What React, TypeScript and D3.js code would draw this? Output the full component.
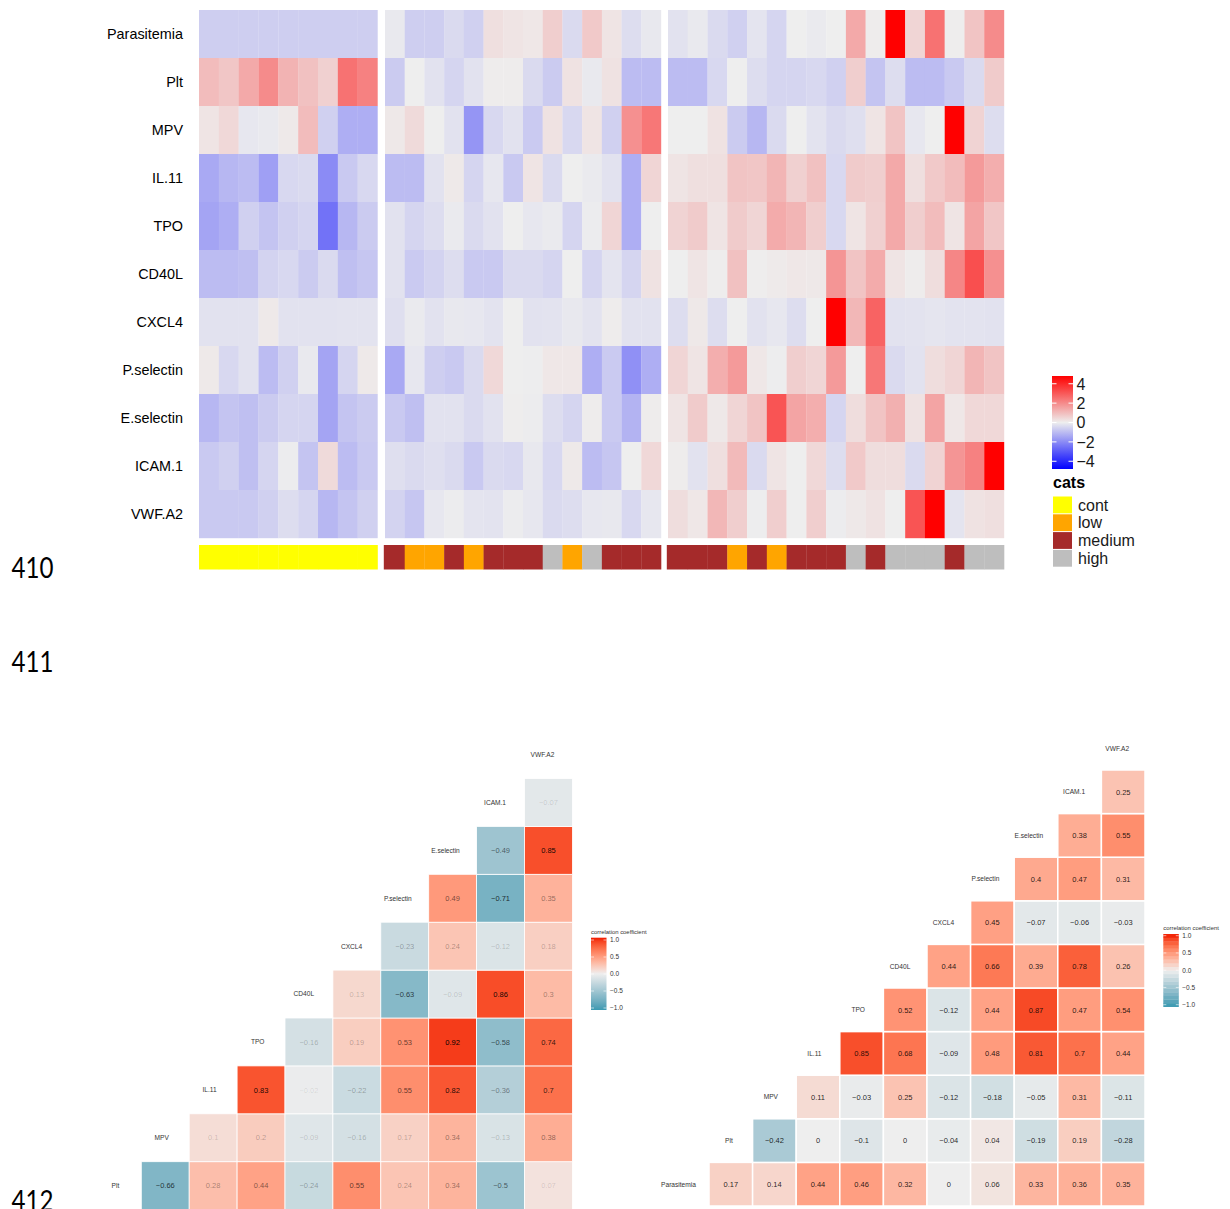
import React from "react";
import * as d3 from "d3";

const FONT = "'Liberation Sans', Arial, Helvetica, sans-serif";

// ---------- z-score heatmap ----------
const rowNames = [
  "Parasitemia", "Plt", "MPV", "IL.11", "TPO", "CD40L",
  "CXCL4", "P.selectin", "E.selectin", "ICAM.1", "VWF.A2",
];

// controls (9 samples)
const panel1Values = [
  [-0.65, -0.65, -0.65, -0.65, -0.65, -0.65, -0.65, -0.65, -0.65],
  [1.0, 0.8, 1.4, 2.0, 1.2, 0.9, 0.6, 2.5, 2.2],
  [0.2, 0.45, -0.15, -0.1, 0.1, 1.0, -0.6, -1.3, -1.3],
  [-1.4, -1.1, -1.0, -1.6, -0.45, -0.4, -2.0, -0.75, -0.45],
  [-1.5, -1.3, -0.6, -0.85, -0.6, -0.5, -2.5, -1.1, -0.7],
  [-1.0, -1.0, -0.95, -0.55, -0.45, -0.7, -0.4, -0.95, -0.8],
  [-0.25, -0.25, -0.25, 0.1, -0.25, -0.25, -0.25, -0.22, -0.22],
  [0.1, -0.45, -0.25, -1.0, -0.6, -0.1, -1.5, -0.5, 0.1],
  [-1.1, -0.85, -0.95, -0.7, -0.5, -0.5, -1.5, -0.85, -0.7],
  [-0.75, -0.6, -0.95, -0.5, -0.05, -0.85, 0.4, -1.0, -0.75],
  [-0.75, -0.75, -0.75, -0.6, -0.35, -0.5, -1.1, -0.85, -0.6],
];

// second patient cluster (14 samples)
const panel2Values = [
  [-0.1, -0.65, -0.65, -0.4, -0.6, 0.3, 0.2, 0.15, 0.65, -0.4, 0.75, 0.2, -0.35, -0.12],
  [-0.7, 0, -0.25, -0.5, -0.25, 0.05, 0.05, -0.4, -0.7, 0.25, -0.1, 0.25, -1.0, -1.0],
  [0.12, 0.4, 0, -0.25, -1.8, -0.45, -0.25, -0.72, 0.25, -0.45, 0.2, -0.6, 1.9, 2.4],
  [-1.0, -1.0, -0.25, 0.1, -0.5, -0.15, -0.75, 0.2, -0.4, 0, -0.08, -0.25, -1.3, 0.5],
  [-0.25, -0.5, -0.35, -0.08, -0.4, -0.25, 0, -0.15, -0.08, -0.5, -0.05, 0.5, -1.3, 0],
  [-0.25, -0.72, -0.55, -0.35, -0.75, -0.75, -0.4, -0.4, -0.5, 0, -0.5, -0.2, -0.5, 0.25],
  [-0.3, -0.08, -0.25, -0.12, -0.15, -0.22, 0, -0.25, -0.22, -0.12, -0.22, 0.05, -0.25, -0.25],
  [-1.4, -0.15, -0.65, -0.75, -0.4, 0.45, 0, -0.02, 0.15, 0.15, -1.3, -0.72, -1.9, -1.3],
  [-0.75, -0.95, -0.25, -0.25, -0.4, -0.25, 0.02, -0.05, -0.35, -0.5, 0.05, -0.72, -1.2, 0.05],
  [-0.3, -0.4, -0.3, -0.4, -0.75, -0.4, -0.45, -0.12, -0.45, 0.1, -1.0, -0.8, 0, 0.45],
  [-0.55, -0.8, -0.15, -0.05, -0.2, -0.22, -0.05, -0.15, -0.4, -0.35, -0.15, -0.12, -0.45, -0.15],
];

// third patient cluster (17 samples)
const panel3Values = [
  [-0.25, -0.1, -0.4, -0.6, -0.2, -0.5, 0, -0.08, 0, 1.4, 0.05, 4.8, 0.5, 2.5, 0.02, 0.85, 2.0],
  [-1.0, -1.0, -0.45, 0, -0.35, -0.5, -0.5, -0.45, -0.6, 0.65, -0.85, -0.35, -1.0, -1.0, -0.75, -0.4, 0.7],
  [0, 0, 0.25, -0.7, -1.1, -0.4, 0, -0.22, -0.4, -0.3, 0.2, 0.85, -0.15, 0, 4.8, 0.55, -0.35],
  [0.2, 0.3, 0.3, 0.85, 0.8, 1.15, 0.6, 0.9, -0.45, 0.7, 0.65, 1.4, 0.3, 0.75, 1.0, 1.7, 1.3],
  [0.55, 0.7, 0.2, 0.7, 0.5, 1.35, 1.15, 0.65, -0.45, 0.2, 0.6, 1.4, 0.65, 1.0, 0.2, 1.5, 0.8],
  [0, 0.2, 0.02, 0.9, 0.02, 0.08, 0.15, 0.12, 1.8, 0.85, 1.35, 0.2, 0.05, 0.35, 2.1, 3.2, 1.9],
  [-0.35, 0.12, -0.35, 0, -0.25, -0.15, -0.35, 0, 4.8, 1.1, 2.8, -0.25, -0.22, -0.18, -0.22, -0.22, -0.25],
  [0.5, 0.2, 1.3, 1.7, 0.15, -0.03, 0.65, 0.5, 1.7, 0, 2.4, -0.4, -0.25, 0.35, 0.5, 1.15, 0.85],
  [0.2, 0.7, 0.12, 0.5, 0.85, 3.1, 1.5, 1.3, -0.5, 0.35, 0.85, 1.25, 0.25, 1.5, 0.15, 0.45, 0.45],
  [0.05, -0.25, 0.3, 1.05, -0.4, 0.2, 0, 0.45, -0.35, 0.75, 0.35, 0.35, -0.4, 0.55, 1.8, 2.2, 4.8],
  [0.35, 0.15, 1.1, 0.65, -0.03, 0.65, 0, 0.65, -0.05, 0.12, 0.25, 0, 3.1, 4.8, -0.2, 0.25, 0.3],
];

const panel1Cats = ["cont", "cont", "cont", "cont", "cont", "cont", "cont", "cont", "cont"];
const panel2Cats = [
  "medium", "low", "low", "medium", "low", "medium", "medium",
  "medium", "high", "low", "high", "medium", "medium", "medium",
];
const panel3Cats = [
  "medium", "medium", "medium", "low", "medium", "low", "medium", "medium", "medium",
  "high", "medium", "high", "high", "high", "medium", "high", "high",
];

const catNames = ["cont", "low", "medium", "high"];
const catColors = ["#FFFF00", "#FFA500", "#A52A2A", "#BEBEBE"];
const heatTicks = [4, 2, 0, -2, -4];

// ---------- correlation triangles ----------
const corrLeftVars = ["Plt", "MPV", "IL.11", "TPO", "CD40L", "CXCL4", "P.selectin", "E.selectin", "ICAM.1", "VWF.A2"];
const corrLeftValues = [
  [-0.66, 0.28, 0.44, -0.24, 0.55, 0.24, 0.34, -0.5, 0.07],
  [0.1, 0.2, -0.09, -0.16, 0.17, 0.34, -0.13, 0.38],
  [0.83, -0.02, -0.22, 0.55, 0.82, -0.36, 0.7],
  [-0.16, 0.19, 0.53, 0.92, -0.58, 0.74],
  [0.13, -0.63, -0.09, 0.86, 0.3],
  [-0.23, 0.24, -0.12, 0.18],
  [0.49, -0.71, 0.35],
  [-0.49, 0.85],
  [-0.07],
];

const corrRightVars = ["Parasitemia", "Plt", "MPV", "IL.11", "TPO", "CD40L", "CXCL4", "P.selectin", "E.selectin", "ICAM.1", "VWF.A2"];
const corrRightValues = [
  [0.17, 0.14, 0.44, 0.46, 0.32, 0, 0.06, 0.33, 0.36, 0.35],
  [-0.42, 0, -0.1, 0, -0.04, 0.04, -0.19, 0.19, -0.28],
  [0.11, -0.03, 0.25, -0.12, -0.18, -0.05, 0.31, -0.11],
  [0.85, 0.68, -0.09, 0.48, 0.81, 0.7, 0.44],
  [0.52, -0.12, 0.44, 0.87, 0.47, 0.54],
  [0.44, 0.66, 0.39, 0.78, 0.26],
  [0.45, -0.07, -0.06, -0.03],
  [0.4, 0.47, 0.31],
  [0.38, 0.55],
  [0.25],
];

const corrTicks = [1, 0.5, 0, -0.5, -1];
const pageNumbers = ["410", "411", "412"];

// ---------- scales ----------
const heatColor = d3
  .scaleLinear<string>()
  .domain([-4.8, 0, 4.8])
  .range(["#0000FF", "#EEEEEE", "#FF0000"])
  .clamp(true);

const corrColor = d3
  .scaleLinear<string>()
  .domain([-1, 0, 1])
  .range(["#3B9AB2", "#EEEEEE", "#F21A00"])
  .interpolate(d3.interpolateLab);

const minus = (s: string) => s.replace("-", "\u2212");
const fmtCorr = (v: number) => minus(String(v));

let measureCtx: CanvasRenderingContext2D | null = null;
function textWidth(s: string, size: number) {
  if (!measureCtx) measureCtx = document.createElement("canvas").getContext("2d");
  if (!measureCtx) return s.length * size * 0.55;
  measureCtx.font = `${size}px 'Liberation Sans', Arial, sans-serif`;
  return measureCtx.measureText(s).width;
}

// ---------- heatmap ----------
function Heatmap() {
  const y = d3.scaleBand<string>().domain(rowNames).range([10, 538]);
  const panels = [
    { values: panel1Values, cats: panel1Cats, x0: 199, x1: 377.5 },
    { values: panel2Values, cats: panel2Cats, x0: 385, x1: 661 },
    { values: panel3Values, cats: panel3Cats, x0: 668, x1: 1004 },
  ];
  const catColor = d3.scaleOrdinal<string, string>().domain(catNames).range(catColors);
  return (
    <g>
      {panels.map((p, pi) => {
        const n = p.values[0].length;
        const x = d3.scaleBand<number>().domain(d3.range(n)).range([p.x0, p.x1]);
        return (
          <g key={pi}>
            {p.values.map((row, ri) =>
              row.map((v, ci) => (
                <rect
                  key={`${ri}-${ci}`}
                  x={x(ci)}
                  y={y(rowNames[ri])}
                  width={x.bandwidth() + 0.2}
                  height={y.bandwidth() + 0.2}
                  fill={heatColor(v)}
                />
              ))
            )}
            {p.cats.map((c, ci) => (
              <rect
                key={`a${ci}`}
                x={(x(ci) ?? 0) - (ci === 0 && pi > 0 ? 1.2 : 0)}
                y={545}
                width={x.bandwidth() + 0.3 + (ci === 0 && pi > 0 ? 1.2 : 0)}
                height={24.5}
                fill={catColor(c)}
              />
            ))}
          </g>
        );
      })}
      {rowNames.map((r) => (
        <text
          key={r}
          x={183}
          y={(y(r) ?? 0) + y.bandwidth() / 2}
          dy="0.36em"
          textAnchor="end"
          fontFamily={FONT}
          fontSize={14.4}
          fill="#000"
        >
          {r}
        </text>
      ))}
    </g>
  );
}

function HeatLegend() {
  const ly = d3.scaleLinear().domain([-4.8, 4.8]).range([469, 376]);
  const stops = d3.range(0, 1.0001, 0.05);
  const catY = d3.scaleBand<string>().domain(catNames).range([496, 567.2]);
  const catColor = d3.scaleOrdinal<string, string>().domain(catNames).range(catColors);
  return (
    <g fontFamily={FONT}>
      <defs>
        <linearGradient id="heatGrad" x1="0" y1="1" x2="0" y2="0">
          {stops.map((t) => (
            <stop key={t} offset={t} stopColor={heatColor(-4.8 + 9.6 * t)} />
          ))}
        </linearGradient>
      </defs>
      <rect x={1052} y={376} width={21} height={93} fill="url(#heatGrad)" />
      {heatTicks.map((t) => (
        <g key={t}>
          <line x1={1052} x2={1056.5} y1={ly(t)} y2={ly(t)} stroke="#fff" strokeWidth={1} />
          <line x1={1068.5} x2={1073} y1={ly(t)} y2={ly(t)} stroke="#fff" strokeWidth={1} />
          <text x={1076.5} y={ly(t)} dy="0.36em" fontSize={16} fill="#1a1a1a">
            {minus(String(t))}
          </text>
        </g>
      ))}
      <text x={1053} y={487.5} fontSize={16} fontWeight="bold" fill="#000">
        cats
      </text>
      {catNames.map((c) => (
        <g key={c}>
          <rect
            x={1053}
            y={(catY(c) ?? 0) + 0.5}
            width={19}
            height={catY.bandwidth() - 1}
            fill={catColor(c)}
          />
          <text
            x={1078}
            y={(catY(c) ?? 0) + catY.bandwidth() / 2}
            dy="0.36em"
            fontSize={16}
            fill="#1a1a1a"
          >
            {c}
          </text>
        </g>
      ))}
    </g>
  );
}

// ---------- correlation triangle ----------
type TriProps = {
  vars: string[];
  values: number[][];
  left: number;
  bottom: number;
  cell: number;
  strokeW: number;
  fade: boolean;
};

function CorrTriangle({ vars, values, left, bottom, cell, strokeW, fade }: TriProps) {
  const n = vars.length;
  const x = d3.scaleBand<string>().domain(vars).range([left - cell, left + (n - 1) * cell]);
  const y = d3.scaleBand<string>().domain(vars).range([bottom, bottom - n * cell]);
  const cells: { a: number; b: number; v: number }[] = [];
  values.forEach((row, a) => row.forEach((v, k) => cells.push({ a, b: a + 1 + k, v })));
  const ext = d3.extent(cells, (c) => Math.abs(c.v)) as [number, number];
  const alpha = d3.scaleLinear().domain(ext).range([0.1, 1]);
  const labelSize = 6.6;
  const valueSize = 7.5;
  return (
    <g fontFamily={FONT}>
      {cells.map((c) => (
        <rect
          key={`${c.a}-${c.b}`}
          x={x(vars[c.b])}
          y={y(vars[c.a])}
          width={x.bandwidth()}
          height={y.bandwidth()}
          fill={corrColor(c.v)}
          stroke="#ffffff"
          strokeWidth={strokeW}
        />
      ))}
      {cells.map((c) => (
        <text
          key={`t${c.a}-${c.b}`}
          x={(x(vars[c.b]) ?? 0) + x.bandwidth() / 2}
          y={(y(vars[c.a]) ?? 0) + y.bandwidth() / 2}
          dy="0.36em"
          textAnchor="middle"
          fontSize={valueSize}
          fill="#000"
          fillOpacity={fade ? alpha(Math.abs(c.v)) : 0.85}
        >
          {fmtCorr(c.v)}
        </text>
      ))}
      {vars.map((v) => {
        const cx = (x(v) ?? 0) + x.bandwidth() / 2;
        const w = textWidth(v, labelSize);
        return (
          <text
            key={`l${v}`}
            x={cx - 0.75 * w}
            y={(y(v) ?? 0) + y.bandwidth() / 2}
            dy="0.36em"
            fontSize={labelSize}
            fill="#333"
          >
            {v}
          </text>
        );
      })}
    </g>
  );
}

type LegProps = {
  id: string;
  x: number;
  top: number;
  bottom: number;
  tickTop: number;
  tickBottom: number;
  steps: number;
};

function CorrLegend({ id, x, top, bottom, tickTop, tickBottom, steps }: LegProps) {
  const ly = d3.scaleLinear().domain([-1, 1]).range([tickBottom, tickTop]);
  const toVal = d3.scaleLinear().domain([bottom, top]).range([-1.03, 1.03]);
  const w = 15.5;
  const bins = d3.range(steps);
  const binH = (bottom - top) / steps;
  return (
    <g fontFamily={FONT}>
      <text x={x} y={top - 4} fontSize={5.9} fill="#333">
        correlation coefficient
      </text>
      {steps > 0 ? (
        bins.map((i) => {
          const y0 = bottom - (i + 1) * binH;
          return (
            <rect
              key={i}
              x={x}
              y={y0}
              width={w}
              height={binH + 0.3}
              fill={corrColor(Math.max(-1, Math.min(1, toVal(y0 + binH / 2))))}
            />
          );
        })
      ) : (
        <>
          <defs>
            <linearGradient id={id} x1="0" y1="1" x2="0" y2="0">
              {d3.range(0, 1.0001, 0.05).map((t) => (
                <stop key={t} offset={t} stopColor={corrColor(-1 + 2 * t)} />
              ))}
            </linearGradient>
          </defs>
          <rect x={x} y={top} width={w} height={bottom - top} fill={`url(#${id})`} />
        </>
      )}
      {corrTicks.map((t) => (
        <g key={t}>
          <line x1={x} x2={x + 3} y1={ly(t)} y2={ly(t)} stroke="#fff" strokeWidth={0.6} />
          <line x1={x + w - 3} x2={x + w} y1={ly(t)} y2={ly(t)} stroke="#fff" strokeWidth={0.6} />
          <text x={x + w + 3.5} y={ly(t)} dy="0.36em" fontSize={6.5} fill="#333">
            {minus(d3.format(".1f")(t))}
          </text>
        </g>
      ))}
    </g>
  );
}

export default function App() {
  const pageY = [578, 672, 1211];
  return (
    <svg
      width={1230}
      height={1209}
      viewBox="0 0 1230 1209"
      style={{ position: "absolute", left: 0, top: 0, background: "#fff" }}
    >
      <rect x={0} y={0} width={1230} height={1209} fill="#fff" />
      <Heatmap />
      <HeatLegend />
      {pageNumbers.map((p, i) => (
        <text
          key={p}
          x={11.5}
          y={pageY[i]}
          fontFamily="Lato, 'Open Sans', sans-serif"
          fontSize={28}
          textLength={42}
          lengthAdjust="spacingAndGlyphs"
          fill="#000"
        >
          {p}
        </text>
      ))}
      <CorrTriangle
        vars={corrLeftVars}
        values={corrLeftValues}
        left={141.3}
        bottom={1209.6}
        cell={47.9}
        strokeW={0.8}
        fade={true}
      />
      <CorrLegend id="corrGradL" x={591} top={937.7} bottom={1010} tickTop={940} tickBottom={1008} steps={0} />
      <CorrTriangle
        vars={corrRightVars}
        values={corrRightValues}
        left={709}
        bottom={1206}
        cell={43.6}
        strokeW={1.5}
        fade={false}
      />
      <CorrLegend id="corrGradR" x={1163.3} top={934} bottom={1006.7} tickTop={935.7} tickBottom={1004.7} steps={20} />
    </svg>
  );
}
